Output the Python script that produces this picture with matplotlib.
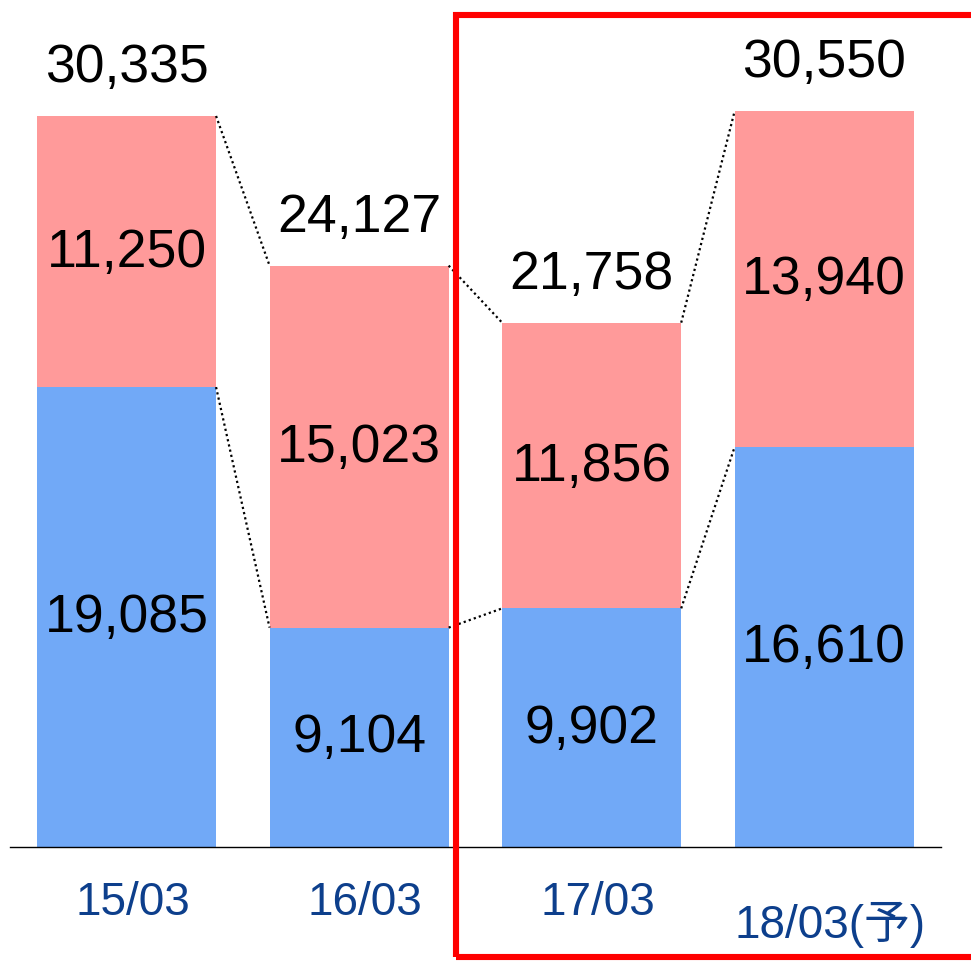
import numpy as np
import matplotlib
matplotlib.use("Agg")
from matplotlib import pyplot as plt
from matplotlib.patches import Rectangle

# data
categories = ["15/03", "16/03", "17/03", "18/03(予)"]
blue_vals = [19085, 9104, 9902, 16610]
pink_vals = [11250, 15023, 11856, 13940]
totals = [30335, 24127, 21758, 30550]

blue = "#71A9F7"
pink = "#FF9A9A"
label_col = "#0D3F8C"
fonts = ["Liberation Sans", "Noto Sans CJK JP", "DejaVu Sans"]
plt.rcParams["font.family"] = fonts

fig = plt.figure(figsize=(9.71, 9.62), dpi=100)
ax = fig.add_axes([0, 114 / 962, 1, 848 / 962])
ax.set_xlim(-0.544, 3.631)
ax.set_ylim(0, 35190)
ax.axis("off")

x = np.arange(len(categories))
w = 0.77
ax.bar(x, blue_vals, width=w, color=blue, zorder=2)
ax.bar(x, pink_vals, width=w, bottom=blue_vals, color=pink, zorder=2)

# dotted connectors between bars
for i in range(len(x) - 1):
    ax.plot([x[i] + w / 2, x[i + 1] - w / 2], [totals[i], totals[i + 1]],
            color="black", lw=1.6, linestyle=(0, (1, 1.4)), zorder=3)
    ax.plot([x[i] + w / 2, x[i + 1] - w / 2], [blue_vals[i], blue_vals[i + 1]],
            color="black", lw=1.6, linestyle=(0, (1, 1.4)), zorder=3)

# value labels
fs = 38.5
for i in range(len(x)):
    ax.text(x[i], blue_vals[i] / 2, f"{blue_vals[i]:,}", ha="center", va="center",
            fontsize=fs, color="black", zorder=4)
    ax.text(x[i], blue_vals[i] + pink_vals[i] / 2, f"{pink_vals[i]:,}", ha="center",
            va="center", fontsize=fs, color="black", zorder=4)
    ax.annotate(f"{totals[i]:,}", (x[i], totals[i]), xytext=(0, 35),
                textcoords="offset points", ha="center", va="center",
                fontsize=fs, color="black", zorder=4)

# baseline
ax.plot([-0.5, 3.5], [0, 0], color="black", lw=1.0, clip_on=False, zorder=3)

# category labels
for i, c in enumerate(categories):
    dy = -55 if i < 3 else -77
    ax.annotate(c, (x[i], 0), xytext=(6, dy), textcoords="offset pixels",
                ha="center", va="center", fontsize=33, color=label_col,
                annotation_clip=False)

# red highlight box
rect = Rectangle((456 / 971, 1 - 958 / 962), 0.6, (958 - 16) / 962,
                 transform=fig.transFigure, fill=False, edgecolor="#FF0000",
                 linewidth=4.4, clip_on=False, zorder=5)
fig.add_artist(rect)

fig.savefig("out.png", dpi=100)
